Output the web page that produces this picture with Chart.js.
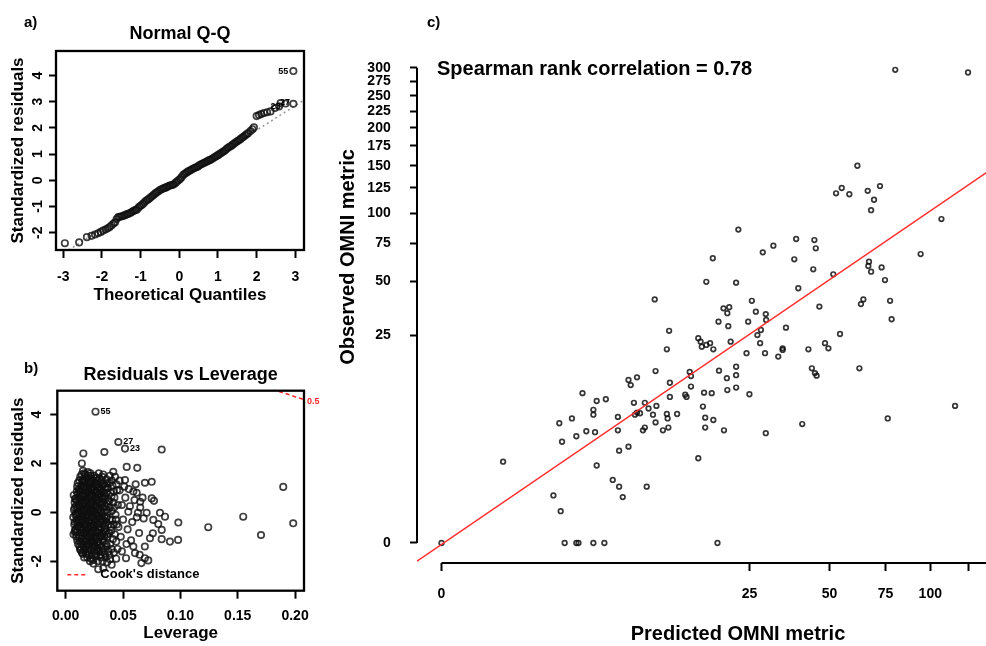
<!DOCTYPE html>
<html><head><meta charset="utf-8">
<script src="https://cdn.jsdelivr.net/npm/chart.js@4.4.0/dist/chart.umd.min.js"></script>
<style>
html,body{margin:0;padding:0;background:#fff;width:986px;height:646px;overflow:hidden;position:relative;font-family:'Liberation Sans',Arial,Helvetica,sans-serif;}
canvas{position:absolute;display:block;}
.lab{position:absolute;font-weight:bold;font-size:15px;line-height:15px;color:#000;}
</style></head><body>
<canvas id="ca" width="354" height="320" style="left:0;top:0"></canvas>
<canvas id="cb" width="354" height="326" style="left:0;top:320px"></canvas>
<canvas id="cc" width="740" height="722" style="left:330px;top:-76px"></canvas>
<div class="lab" style="left:24px;top:14px">a)</div>
<div class="lab" style="left:24px;top:360px">b)</div>
<div class="lab" style="left:427px;top:14px">c)</div>
<script>
// ---------------- Panel a: Normal Q-Q ----------------
const qqTheoretical = [
 -2.96,-2.59,-2.39,-2.27,-2.18,-2.10,-2.03,-1.97,-1.91,-1.85,
 -1.80,-1.75,-1.70,-1.66,-1.62,-1.58,-1.54,-1.50,-1.46,-1.42,
 -1.38,-1.34,-1.30,-1.26,-1.22,-1.18,-1.14,-1.10,-1.06,-1.02,
 -0.98,-0.94,-0.90,-0.86,-0.82,-0.78,-0.74,-0.70,-0.66,-0.62,
 -0.58,-0.54,-0.50,-0.46,-0.42,-0.38,-0.34,-0.30,-0.26,-0.22,
 -0.18,-0.14,-0.10,-0.06,-0.02,0.02,0.06,0.10,0.14,0.18,
 0.22,0.26,0.30,0.34,0.38,0.42,0.46,0.50,0.54,0.58,
 0.62,0.66,0.70,0.74,0.78,0.82,0.86,0.90,0.94,0.98,
 1.02,1.06,1.10,1.14,1.18,1.22,1.26,1.30,1.34,1.38,
 1.42,1.46,1.50,1.54,1.58,1.62,1.66,1.70,1.74,1.78,
 1.84,1.89,1.93,2.00,2.06,2.12,2.19,2.27,2.36,2.47,
 2.58,2.62,2.75,2.95,2.95];
const qqResidual = [
 -2.40,-2.37,-2.17,-2.12,-2.07,-2.02,-1.97,-1.92,-1.88,-1.83,
 -1.78,-1.72,-1.65,-1.60,-1.48,-1.40,-1.39,-1.38,-1.36,-1.34,
 -1.31,-1.29,-1.27,-1.24,-1.20,-1.16,-1.14,-1.12,-1.05,-0.99,
 -0.95,-0.90,-0.84,-0.78,-0.74,-0.70,-0.65,-0.60,-0.55,-0.50,
 -0.46,-0.42,-0.37,-0.34,-0.31,-0.29,-0.27,-0.24,-0.21,-0.19,
 -0.18,-0.15,-0.10,-0.05,0.00,0.05,0.12,0.20,0.25,0.29,
 0.33,0.36,0.39,0.43,0.46,0.49,0.51,0.55,0.59,0.62,
 0.65,0.68,0.71,0.74,0.77,0.79,0.83,0.87,0.91,0.94,
 0.98,1.02,1.06,1.10,1.14,1.19,1.24,1.28,1.31,1.36,
 1.40,1.45,1.49,1.53,1.57,1.62,1.66,1.71,1.76,1.80,
 1.88,1.95,2.02,2.45,2.49,2.53,2.57,2.60,2.63,2.76,
 2.82,2.95,2.93,2.92,4.17];
const qqXTicks = [-3,-2,-1,0,1,2,3];
const qqYTicks = [-2,-1,0,1,2,3,4];
const qqLineIntercept = 0.03, qqLineSlope = 0.94;
const qqIdText = ['55','27','23'];
const qqIdX = [2.95, 2.99, 2.75];
const qqIdY = [4.17, 2.95, 2.80];

// ---------------- Panel b: Residuals vs Leverage ----------------
const leverage = [
 0.0068,0.0075,0.0066,0.0072,0.0078,0.0070,
 0.0092,0.0086,0.0095,0.0089,0.0093,0.0087,0.0096,
 0.0108,0.0115,0.0104,0.0112,0.0107,0.0116,0.0109,0.0113,0.0105,
 0.0132,0.0126,0.0135,0.0128,0.0137,0.0124,0.0133,0.0129,0.0136,0.0127,
 0.0148,0.0156,0.0145,0.0153,0.0147,0.0158,0.0144,0.0152,0.0149,0.0157,0.0146,0.0151,
 0.0173,0.0166,0.0175,0.0168,0.0177,0.0164,0.0172,0.0169,0.0176,0.0165,0.0171,
 0.0188,0.0195,0.0185,0.0192,0.0186,0.0197,0.0189,0.0194,0.0184,0.0191,0.0198,0.0187,0.0193,
 0.0212,0.0205,0.0216,0.0208,0.0214,0.0204,0.0211,0.0217,0.0207,0.0213,0.0206,0.0215,
 0.0228,0.0235,0.0225,0.0232,0.0227,0.0236,0.0224,0.0233,0.0229,0.0234,0.0226,
 0.0252,0.0245,0.0256,0.0248,0.0254,0.0244,0.0251,0.0257,0.0247,0.0253,0.0249,
 0.0268,0.0275,0.0265,0.0272,0.0277,0.0264,0.0271,0.0276,0.0267,0.0273,
 0.0292,0.0285,0.0296,0.0288,0.0294,0.0284,0.0291,0.0297,0.0287,0.0293,0.0289,
 0.0308,0.0315,0.0305,0.0312,0.0317,0.0304,0.0311,0.0316,0.0307,0.0313,
 0.0332,0.0325,0.0336,0.0328,0.0334,0.0324,0.0331,0.0337,0.0327,
 0.0348,0.0355,0.0345,0.0352,0.0357,0.0344,0.0351,0.0356,
 0.0372,0.0365,0.0376,0.0368,0.0374,0.0366,
 0.0388,0.0395,0.0385,0.0392,0.0386,
 0.0412,0.0405,0.0416,0.0408,
 0.0428,0.0435,0.0425,
 0.0452,0.0446,0.0455,0.0448,
 0.0081,0.0078,0.0083,0.0079,0.0082,
 0.0101,0.0098,0.0103,0.0099,0.0102,0.0097,0.0104,0.0100,
 0.0121,0.0118,0.0123,0.0119,0.0122,0.0117,0.0124,0.0120,0.0118,
 0.0141,0.0138,0.0143,0.0139,0.0142,0.0137,0.0144,0.0140,0.0138,0.0143,0.0139,
 0.0161,0.0158,0.0163,0.0159,0.0162,0.0157,0.0164,0.0160,0.0158,0.0163,0.0159,0.0162,
 0.0181,0.0178,0.0183,0.0179,0.0182,0.0177,0.0184,0.0180,0.0178,0.0183,0.0179,
 0.0201,0.0198,0.0203,0.0199,0.0202,0.0197,0.0204,0.0200,0.0198,0.0203,0.0199,
 0.0221,0.0218,0.0223,0.0219,0.0222,0.0217,0.0224,0.0220,0.0218,0.0223,0.0219,0.0222,
 0.0241,0.0238,0.0243,0.0239,0.0242,0.0237,0.0244,0.0240,0.0238,0.0243,0.0239,
 0.0261,0.0258,0.0263,0.0259,0.0262,0.0257,0.0264,0.0260,0.0258,0.0263,0.0259,
 0.0281,0.0278,0.0283,0.0279,0.0282,0.0277,0.0284,0.0280,0.0278,0.0283,0.0279,
 0.0301,0.0298,0.0303,0.0299,0.0302,0.0297,0.0304,0.0300,0.0298,0.0303,
 0.0321,0.0318,0.0323,0.0319,0.0322,0.0317,0.0324,0.0320,0.0318,0.0323,0.0319,
 0.0341,0.0338,0.0343,0.0339,0.0342,0.0337,0.0344,
 0.0361,0.0358,0.0363,0.0359,0.0362,0.0357,0.0364,
 0.0381,0.0378,0.0383,0.0379,0.0382,
 0.0401,0.0398,0.0403,0.0399,0.0402,
 0.0421,0.0418,0.0423,0.0419,
 0.0441,0.0438,0.0443,
 0.047,0.049,0.050,0.052,0.054,0.048,0.051,0.056,0.058,0.046,0.055,0.060,
 0.057,0.062,0.049,0.053,0.047,0.044,0.065,0.059,0.064,0.067,0.061,0.068,
 0.0154,0.0141,0.0337,0.0459,0.0517,0.0837,0.0532,0.0624,0.0415,0.043,
 0.0517,0.0691,0.075,0.1897,0.075,0.077,0.0619,0.065,0.0546,0.063,
 0.0706,0.0822,0.0866,0.0764,0.0807,0.0982,0.0837,0.076,0.0735,0.0837,
 0.0909,0.098,0.1243,0.1548,0.1703,0.1984,0.069,0.059,0.0604,0.0645,
 0.069,0.072,0.066,0.0526,0.0386,0.0401,0.0241,0.0284,0.0328,0.0125,
 0.0081,0.026];
const stdResid = [
 -0.9,-0.5,-0.2,0.1,0.4,0.7,
 -1.0,-0.7,-0.35,-0.05,0.25,0.55,0.85,
 -1.3,-0.95,-0.6,-0.3,0.0,0.3,0.6,0.95,1.2,
 -1.55,-1.2,-0.85,-0.5,-0.15,0.15,0.45,0.8,1.1,1.45,
 -1.7,-1.35,-1.05,-0.7,-0.4,-0.1,0.2,0.5,0.75,1.05,1.35,1.7,
 -1.5,-1.2,-0.9,-0.6,-0.25,0.05,0.35,0.65,0.95,1.25,1.55,
 -1.85,-1.6,-1.3,-1.0,-0.7,-0.4,-0.1,0.2,0.5,0.8,1.1,1.4,1.65,
 -2.0,-1.45,-1.15,-0.85,-0.55,-0.2,0.1,0.4,0.7,1.0,1.3,1.6,
 -1.75,-1.35,-1.05,-0.75,-0.45,-0.15,0.15,0.45,0.75,1.05,1.35,
 -1.6,-1.25,-0.95,-0.6,-0.3,0.0,0.3,0.6,0.9,1.2,1.5,
 -1.8,-1.45,-1.1,-0.8,-0.45,-0.1,0.2,0.5,0.85,1.15,
 -1.6,-1.25,-0.95,-0.6,-0.25,0.1,0.4,0.75,1.05,1.4,1.6,
 -1.85,-1.4,-1.0,-0.65,-0.3,0.05,0.35,0.65,0.95,1.3,
 -1.5,-1.1,-0.7,-0.35,0.0,0.4,0.8,1.15,1.55,
 -1.85,-1.3,-0.8,-0.4,0.1,0.55,0.95,1.35,
 -1.6,-1.0,-0.5,0.0,0.5,1.0,
 -1.3,-0.6,0.2,0.8,1.5,
 -1.1,-0.3,0.4,1.1,
 -0.9,-0.1,0.6,
 -1.5,-0.5,0.3,0.9,
 -0.75,-0.4,-0.1,0.2,0.55,
 -1.15,-0.8,-0.45,-0.15,0.15,0.45,0.75,1.05,
 -1.4,-1.05,-0.7,-0.4,-0.05,0.25,0.55,0.9,1.3,
 -1.65,-1.3,-0.95,-0.6,-0.3,0.05,0.35,0.65,0.95,1.25,1.55,
 -1.85,-1.55,-1.2,-0.85,-0.5,-0.2,0.1,0.4,0.7,1.0,1.3,1.6,
 -1.7,-1.4,-1.1,-0.8,-0.5,-0.15,0.15,0.45,0.75,1.05,1.35,
 -1.75,-1.3,-1.0,-0.65,-0.35,0.0,0.3,0.6,0.9,1.2,1.5,
 -1.9,-1.55,-1.25,-0.95,-0.65,-0.3,0.0,0.3,0.6,0.9,1.2,1.5,
 -2.1,-1.45,-1.15,-0.85,-0.5,-0.2,0.1,0.4,0.7,1.0,1.3,
 -1.7,-1.4,-1.05,-0.75,-0.4,-0.05,0.25,0.55,0.8,1.1,1.4,
 -2.0,-1.55,-1.2,-0.85,-0.5,-0.15,0.15,0.45,0.7,1.0,1.3,
 -1.75,-1.35,-1.0,-0.7,-0.4,-0.05,0.3,0.6,0.9,1.2,
 -2.0,-1.6,-1.2,-0.85,-0.5,-0.15,0.2,0.55,0.85,1.1,1.45,
 -1.7,-1.0,-0.55,-0.2,0.25,0.65,1.05,
 -2.05,-1.4,-0.9,-0.2,0.35,0.8,1.2,
 -1.75,-0.85,-0.3,0.45,1.2,
 -1.5,-0.75,0.05,0.65,1.3,
 -1.65,-0.5,0.2,0.85,
 -1.2,-0.3,1.15,
 0.9,0.3,-0.3,0.6,-0.7,-1.0,1.05,0.25,-0.4,-0.6,0.95,0.5,
 -1.15,-0.2,-1.6,-1.3,1.3,-1.9,0.2,0.85,-0.85,0.6,1.15,-0.25,
 2.41,2.0,2.47,2.88,2.61,2.57,1.86,1.82,1.66,1.45,
 1.32,1.21,1.25,1.04,0.57,0.47,0.80,0.43,0.02,-0.02,
 -0.02,-0.02,-0.18,-0.31,-0.48,-0.42,-0.72,-0.86,-1.06,-1.10,
 -1.20,-1.13,-0.61,-0.18,-0.93,-0.45,-1.40,-1.40,-1.67,-1.74,
 -1.88,-1.97,-2.08,-1.88,-1.92,-2.15,-1.95,-2.33,-2.29,-1.51,
 -0.82,4.12];
const levXTicks = [0,0.05,0.10,0.15,0.20];
const levXLabels = ['0.00','0.05','0.10','0.15','0.20'];
const levYTicks = [-2,0,2,4];
const cookLev = [0.186,0.190,0.195,0.200,0.205,0.2078];
const cookRes = [4.95,4.89,4.81,4.73,4.66,4.62];
const levIdText = ['55','27','23'];
const levIdX = [0.026,0.0459,0.0517];
const levIdY = [4.12,2.88,2.61];

// ---------------- Panel c: Observed vs Predicted OMNI ----------------
const predicted = [
 0,0.2,1.6,2.1,2.2,3.0,3.7,1.2,1.45,2.4,
 1.4,1.9,1.5,2.1,2.6,3.1,3.2,3.8,3.0,3.0,
 3.2,4.3,4.8,5.1,4.7,4.7,4.8,5.6,7.4,5.6,
 5.8,6.4,6.1,7.2,6.2,6.4,7.6,8.5,8.1,8.4,
 7.2,7.0,9.3,10.0,9.8,9.9,11.2,8.4,9.8,10.2,
 10.2,12.4,12.6,13.3,13.1,13.3,14.9,15.1,16.6,14.5,
 15.5,15.3,15.7,15.7,17.2,20.7,27.7,24.3,29.0,32.7,
 34.0,42.3,48.3,49.6,18.3,19.9,21.9,21.9,16.9,20.0,
 21.9,25.0,17.2,19.3,29.2,40.2,43.5,44.6,45.2,62.5,
 76.1,116,18.0,80,125,61.6,54.9,52.6,58.1,66.3,
 72.2,69.3,67.9,107,22.4,38.2,44.4,44.9,28.4,31.3,
 17.1,37.6,44.0,51.5,15.9,21.9,38.9,66.9,66.6,67.9,
 73.0,74.7,94.2,25.6,19.2,20.4,20.0,26.6,29.2,29.3,
 18.2,20.2,24.7,35.0,46.2,64.3,63.2,77.3,78.1,54.2,
 27.9,27.0,34.0,8.3,10.1,14.5,6.7,15.9];
const observed = [
 0,1.5,0,0,0,0,0,0.3,0.09,9.4,
 4.8,5.4,2.9,3.4,3.9,3.8,8.0,8.3,6.6,5.9,
 1.3,0.7,0.5,0.27,5.6,4.0,2.2,2.5,0.5,12.1,
 11.0,12.7,7.7,7.7,5.9,6.2,6.8,7.2,5.9,4.9,
 4.3,4.0,4.0,4.3,6.0,5.4,6.0,14.2,20.3,11.5,
 8.7,9.1,8.7,10.7,14.0,13.0,22.8,21.1,22.3,1.7,
 9.5,7.1,5.5,4.3,20.3,22.8,22.3,19.1,19.1,18.1,
 20.1,20.3,22.3,20.6,14.3,12.5,15.3,13.2,9.4,10.0,
 10.5,9.2,5.2,4.0,3.7,4.7,14.9,13.7,13.1,14.9,
 5.4,7.2,0,296,291,150,125,119.5,118.5,122,
 127,113,103,95,86,78.5,77.7,71.5,68.6,73.4,
 64.5,63.8,57.3,54.2,49.8,49.3,46.2,62.2,59.4,55.8,
 58.5,50.8,67.4,39.7,36.1,36.6,33.9,34.6,33.5,31.0,
 30.3,28.5,30.3,27.9,36.9,40.4,38.1,39.7,31.3,25.5,
 27.0,25.1,20.6,40.4,26.7,24.0,6.1,21.7];
const predTicks = [0,25,50,75,100,125];
const predTickLabels = ['0','25','50','75','100',''];
const obsTicks = [0,25,50,75,100,125,150,175,200,225,250,275,300];
const fitIntercept = -0.02, fitSlope = 1.012; // line in cube-root units
const spearmanText = 'Spearman rank correlation = 0.78';

// ---------------- helpers ----------------
const FAM = "'Liberation Sans', Arial, Helvetica, sans-serif";
const f = (size) => ({family: FAM, size: size, weight: 'bold', lineHeight: 1});
const PT = 'rgba(15,15,15,0.8)';
const gridOpts = (len) => ({drawOnChartArea:false, drawTicks:true, tickLength:len, tickWidth:2, tickColor:'#000'});
const base = {responsive:false, animation:false, events:[], devicePixelRatio:1};

const boxPlugin = {id:'box', afterDraw(chart){
  const {ctx, chartArea:a} = chart; ctx.save();
  ctx.strokeStyle='#000'; ctx.lineWidth=2.3;
  ctx.strokeRect(a.left, a.top, a.right-a.left, a.bottom-a.top); ctx.restore();
}};

function idLabels(texts, xs, ys, side){
  return {id:'ids', afterDatasetsDraw(chart){
    const {ctx, scales:{x,y}} = chart; ctx.save();
    ctx.font = "bold 9px "+FAM; ctx.fillStyle='#000'; ctx.textBaseline='middle';
    ctx.textAlign = side==='left' ? 'right' : 'left';
    texts.forEach((t,i)=>{
      const px = x.getPixelForValue(xs[i]), py = y.getPixelForValue(ys[i]);
      ctx.fillText(t, side==='left' ? px-5 : px+5, py);
    });
    ctx.restore();
  }};
}

// ---------------- Chart a ----------------
const aX = [-3.189, 3.225], aY = [-2.66, 4.935];
new Chart(document.getElementById('ca'), {
  type:'scatter',
  data:{datasets:[
    {type:'line', data:[{x:aX[0], y:qqLineIntercept+qqLineSlope*aX[0]},{x:aX[1], y:qqLineIntercept+qqLineSlope*aX[1]}],
     borderColor:'#999', borderWidth:1.6, borderDash:[2,3], pointRadius:0, fill:false, order:2},
    {data:qqTheoretical.map((v,i)=>({x:v, y:qqResidual[i]})), pointRadius:3.2, pointBorderWidth:1.7,
     borderColor:PT, backgroundColor:'rgba(0,0,0,0)', pointStyle:'circle', order:1}
  ]},
  options:Object.assign({}, base, {
    layout:{padding:{left:9.5, right:50, top:0, bottom:0}},
    plugins:{legend:{display:false}, tooltip:{enabled:false},
      title:{display:true, text:'Normal Q-Q', font:f(18), color:'#000', padding:{top:25,bottom:8}, fullSize:false}},
    scales:{
      x:{type:'linear', min:aX[0], max:aX[1],
        afterBuildTicks:s=>{s.ticks=qqXTicks.map(v=>({value:v}));}, afterFit:s=>{s.height=70;},
        ticks:{autoSkip:false, font:f(14), color:'#000', padding:12.5, maxRotation:0, callback:(v,i)=>String(qqXTicks[i])},
        grid:gridOpts(8), border:{display:false},
        title:{display:true, text:'Theoretical Quantiles', font:f(17), color:'#000', padding:{top:0,bottom:16.5}}},
      y:{type:'linear', min:aY[0], max:aY[1],
        afterBuildTicks:s=>{s.ticks=qqYTicks.map(v=>({value:v}));}, afterFit:s=>{s.width=46.5;},
        ticks:{autoSkip:false, font:f(14), color:'#000', padding:4.8, minRotation:90, maxRotation:90, crossAlign:'center', callback:(v,i)=>String(qqYTicks[i])},
        grid:gridOpts(7), border:{display:false},
        title:{display:true, text:'Standardized residuals', font:f(17), color:'#000', padding:{top:0,bottom:0}}}
    }
  }),
  plugins:[boxPlugin, idLabels(qqIdText, qqIdX, qqIdY, 'left')]
});

// ---------------- Chart b ----------------
const bX = [-0.00733, 0.2078], bY = [-3.21, 4.98];
const cookLegend = {id:'cook', afterDraw(chart){
  const {ctx, chartArea:a, scales:{y}} = chart; ctx.save();
  ctx.strokeStyle='#ff2a2a'; ctx.lineWidth=1.6; ctx.setLineDash([4,3]);
  const ly = a.bottom-16;
  ctx.beginPath(); ctx.moveTo(a.left+10, ly); ctx.lineTo(a.left+31, ly); ctx.stroke();
  ctx.setLineDash([]);
  ctx.font = "bold 13px "+FAM; ctx.fillStyle='#000'; ctx.textBaseline='middle'; ctx.textAlign='left';
  ctx.fillText("Cook's distance", a.left+43, ly);
  ctx.font = "bold 9px "+FAM; ctx.fillStyle='#ff2a2a';
  ctx.fillText('0.5', a.right+3, y.getPixelForValue(cookRes[cookRes.length-1])+2);
  ctx.restore();
}};
new Chart(document.getElementById('cb'), {
  type:'scatter',
  data:{datasets:[
    {data:leverage.map((v,i)=>({x:v, y:stdResid[i]})), pointRadius:3.2, pointBorderWidth:1.7,
     borderColor:PT, backgroundColor:'rgba(0,0,0,0)', pointStyle:'circle', order:2},
    {type:'line', data:cookLev.map((v,i)=>({x:v, y:cookRes[i]})), borderColor:'#ff2a2a', borderWidth:1.6,
     borderDash:[4,3], pointRadius:0, fill:false, order:1}
  ]},
  options:Object.assign({}, base, {
    layout:{padding:{left:9.5, right:50, top:0, bottom:0}},
    plugins:{legend:{display:false}, tooltip:{enabled:false},
      title:{display:true, text:'Residuals vs Leverage', font:f(18), color:'#000', padding:{top:46,bottom:6.7}, fullSize:false}},
    scales:{
      x:{type:'linear', min:bX[0], max:bX[1],
        afterBuildTicks:s=>{s.ticks=levXTicks.map(v=>({value:v}));}, afterFit:s=>{s.height=55.3;},
        ticks:{autoSkip:false, font:f(14), color:'#000', padding:10.3, maxRotation:0, callback:(v,i)=>levXLabels[i]},
        grid:gridOpts(8), border:{display:false},
        title:{display:true, text:'Leverage', font:f(17), color:'#000', padding:{top:0,bottom:4.5}}},
      y:{type:'linear', min:bY[0], max:bY[1],
        afterBuildTicks:s=>{s.ticks=levYTicks.map(v=>({value:v}));}, afterFit:s=>{s.width=47.8;},
        ticks:{autoSkip:false, font:f(14), color:'#000', padding:7.1, minRotation:90, maxRotation:90, crossAlign:'center', callback:(v,i)=>String(levYTicks[i])},
        grid:gridOpts(7), border:{display:false},
        title:{display:true, text:'Standardized residuals', font:f(17), color:'#000', padding:{top:0,bottom:0}}}
    }
  }),
  plugins:[boxPlugin, cookLegend, idLabels(levIdText, levIdX, levIdY, 'right')]
});

// ---------------- Chart c ----------------
const cX = [-0.2327, 5.864], cY = [-0.2817, 8.338];
const cAxes = {id:'raxes', afterDraw(chart){
  const {ctx, chartArea:a, scales:{x,y}} = chart; ctx.save();
  ctx.strokeStyle='#000'; ctx.lineWidth=2; ctx.beginPath();
  ctx.moveTo(x.getPixelForValue(Math.cbrt(predTicks[0])), a.bottom); ctx.lineTo(a.right, a.bottom);
  ctx.moveTo(a.left, y.getPixelForValue(Math.cbrt(obsTicks[0])));
  ctx.lineTo(a.left, y.getPixelForValue(Math.cbrt(obsTicks[obsTicks.length-1])));
  ctx.stroke();
  ctx.font = "bold 20px "+FAM; ctx.fillStyle='#000'; ctx.textAlign='left'; ctx.textBaseline='middle';
  ctx.fillText(spearmanText, a.left+20, a.top+118);
  ctx.restore();
}};
new Chart(document.getElementById('cc'), {
  type:'scatter',
  data:{datasets:[
    {data:predicted.map((p,i)=>({x:Math.cbrt(p), y:Math.cbrt(observed[i])})), pointRadius:2.3, pointBorderWidth:1.7,
     borderColor:'rgba(10,10,10,0.82)', backgroundColor:'rgba(0,0,0,0)', pointStyle:'circle', order:2},
    {type:'line', data:[{x:cX[0], y:fitIntercept+fitSlope*cX[0]},{x:cX[1], y:fitIntercept+fitSlope*cX[1]}],
     borderColor:'#ff3030', borderWidth:1.6, pointRadius:0, fill:false, order:1}
  ]},
  options:Object.assign({}, base, {
    layout:{padding:{left:8, right:11, top:27, bottom:0}},
    plugins:{legend:{display:false}, tooltip:{enabled:false}},
    scales:{
      x:{type:'linear', min:cX[0], max:cX[1],
        afterBuildTicks:s=>{s.ticks=predTicks.map(v=>({value:Math.cbrt(v)}));}, afterFit:s=>{s.height=83;},
        ticks:{autoSkip:false, font:f(14), color:'#000', padding:16, maxRotation:0, callback:(v,i)=>predTickLabels[i]},
        grid:gridOpts(8), border:{display:false},
        title:{display:true, text:'Predicted OMNI metric', font:f(20), color:'#000', padding:{top:0,bottom:2}}},
      y:{type:'linear', min:cY[0], max:cY[1],
        afterBuildTicks:s=>{s.ticks=obsTicks.map(v=>({value:Math.cbrt(v)}));}, afterFit:s=>{s.width=79;},
        ticks:{autoSkip:false, font:f(14), color:'#000', padding:19.3, callback:(v,i)=>String(obsTicks[i])},
        grid:gridOpts(7), border:{display:false},
        title:{display:true, text:'Observed OMNI metric', font:f(20), color:'#000', padding:{top:0,bottom:0}}}
    }
  }),
  plugins:[cAxes]
});
</script>
</body></html>
